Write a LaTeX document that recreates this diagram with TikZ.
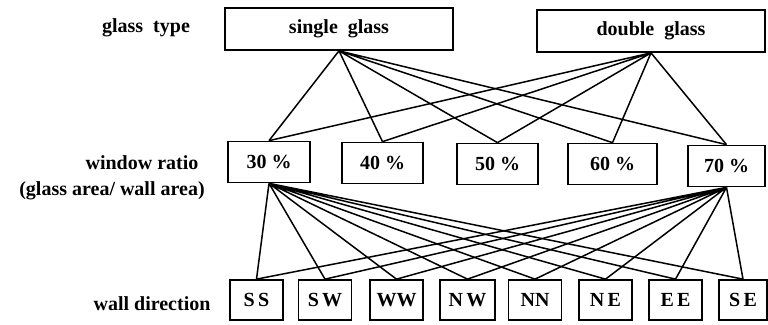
\documentclass[tikz,border=0pt]{standalone}
\usepackage{fontspec}
\setmainfont{Liberation Serif}
\tikzset{
  box/.style={draw=black, line width=1.7pt, inner sep=0pt, font=\bfseries\fontsize{20}{22}\selectfont},
  glassbox/.style={box, minimum width=228pt, minimum height=42pt},
  ratiobox/.style={box, minimum height=41pt},
  dirbox/.style={box, minimum width=53pt, minimum height=40pt},
  link/.style={draw=black, line width=1.5pt},
  lab/.style={font=\bfseries\fontsize{20}{22}\selectfont},
}

\begin{document}
\begin{tikzpicture}[x=1pt,y=-1pt]
  \useasboundingbox (0,0) rectangle (768,324);

  % glass type
  \node[glassbox] (single) at (339,29) {single\ \ glass};
  \node[glassbox] (double) at (651,31) {double\ \ glass};

  % window ratio
  \node[ratiobox, minimum width=82pt] (r30) at (269,162) {30 \%};
  \node[ratiobox, minimum width=81pt] (r40) at (382.5,163) {40 \%};
  \node[ratiobox, minimum width=81pt] (r50) at (497.5,164) {50 \%};
  \node[ratiobox, minimum width=89pt] (r60) at (612.5,164) {60 \%};
  \node[ratiobox, minimum width=77pt] (r70) at (726.5,166) {70 \%};

  % wall direction
  \node[dirbox] (SS) at (256.5,300) {S\,S};
  \node[dirbox] (SW) at (325,300) {S\,W};
  \node[dirbox] (WW) at (396.5,300) {WW};
  \node[dirbox, minimum width=55pt] (NW) at (467.5,300) {N\,W};
  \node[dirbox] (NN) at (535,300) {NN};
  \node[dirbox] (NE) at (605.5,300) {N\,E};
  \node[dirbox] (EE) at (675.5,300) {E\,E};
  \node[dirbox, minimum width=48pt] (SE) at (743,300) {S\,E};

  % row labels
  \node[lab] (typelab) at (146,28) {glass\ \ type};
  \node[lab] (ratiolab) at (142,163) {window ratio};
  \node[lab] (arealab) at (112,191) {(glass area/ wall area)};
  \node[lab] (dirlab) at (152,304) {wall direction};

  % glass type -- window ratio
  \draw[link] (single.south) -- (r30.north) (single.south) -- (r40.north)
    (single.south) -- (r50.north) (single.south) -- (r60.north)
    (single.south) -- (r70.north);
  \draw[link] (double.south) -- (r30.north) (double.south) -- (r40.north)
    (double.south) -- (r50.north) (double.south) -- (r60.north)
    (double.south) -- (r70.north);

  % window ratio -- wall direction
  \draw[link] (r30.south) -- (SS.north) (r30.south) -- (SW.north)
    (r30.south) -- (WW.north) (r30.south) -- (NW.north)
    (r30.south) -- (NN.north) (r30.south) -- (NE.north)
    (r30.south) -- (EE.north) (r30.south) -- (SE.north);
  \draw[link] (r70.south) -- (SS.north) (r70.south) -- (SW.north)
    (r70.south) -- (WW.north) (r70.south) -- (NW.north)
    (r70.south) -- (NN.north) (r70.south) -- (NE.north)
    (r70.south) -- (EE.north) (r70.south) -- (SE.north);
\end{tikzpicture}
\end{document}
